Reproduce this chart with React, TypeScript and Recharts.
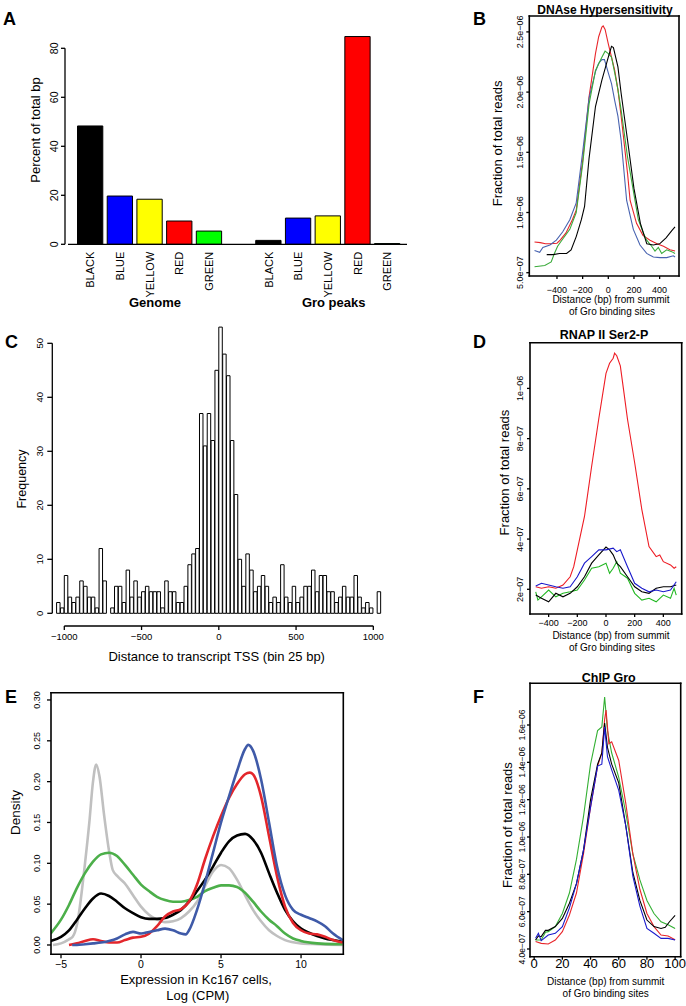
import React from 'react';
import {
  BarChart,
  LineChart,
  Bar,
  Line,
  XAxis,
  YAxis,
  ReferenceLine,
  Cell,
} from 'recharts';

// ---------------- page / fonts ----------------
const W = 686;
const H = 1006;
const SANS = '"Liberation Sans", Arial, Helvetica, sans-serif';
const NARROW = '"Liberation Sans Narrow", "Arial Narrow", "Liberation Sans", sans-serif';
const AX_W = 40;
const AX_H = 30;

// ---------------- Panel A data ----------------
const colourCategories = ['BLACK', 'BLUE', 'YELLOW', 'RED', 'GREEN'];
const colourFills = ['#000000', '#0000ff', '#ffff00', '#ff0000', '#00ff00'];
const genomePercent = [48.3, 19.7, 18.4, 9.5, 5.4];
const groPeaksPercent = [1.6, 10.7, 11.6, 84.8, 0.3];
const groupNames = ['Genome', 'Gro peaks'];
const aTicks = [0, 20, 40, 60, 80];

// ---------------- Panel C data (25 bp bins, -1050 .. 1050) ----------------
const tssFirstBinStart = -1050;
const tssBinWidth = 25;
const tssCounts = [
  2, 1, 7, 3, 2, 3, 6, 5, 3, 3, 1, 12, 6, 0, 1, 5, 5, 2, 8, 3, 6, 3, 4, 5, 4, 4, 4, 1, 6, 4, 4, 2,
  2, 5, 9, 11, 12, 37, 31, 37, 32, 45, 53, 48, 44, 32, 22, 10, 5, 11, 8, 4, 5, 7, 5, 2, 3, 2, 9, 3,
  2, 5, 2, 3, 5, 5, 8, 4, 7, 7, 4, 4, 2, 3, 5, 3, 3, 7, 3, 1, 2, 1, 0, 4,
];
const cXTicks = [-1000, -500, 0, 500, 1000];
const cYTicks = [0, 10, 20, 30, 40, 50];

// ---------------- Panel B data (units of 1e-7) ----------------
const bRedX = [-575, -530, -490, -450, -400, -375, -330, -280, -250, -200, -150, -100, -75, -50, -40, -25, 0, 25, 50, 75, 100, 150, 170, 220, 270, 325, 380, 430, 480, 520];
const bRedY = [7.55, 7.5, 7.4, 7.4, 7.45, 7.7, 8.3, 9.4, 10.2, 14.3, 19.6, 23.2, 24.6, 25.4, 25.5, 25.2, 24.0, 22.9, 21.8, 20.2, 18.0, 13.25, 11.0, 9.1, 8.1, 7.7, 7.4, 7.2, 6.9, 6.8];
const bBlueX = [-575, -535, -510, -455, -405, -355, -300, -250, -200, -150, -100, -75, -50, -30, 0, 25, 50, 75, 100, 143, 195, 247, 299, 351, 403, 455, 507, 520];
const bBlueY = [6.85, 6.7, 7.1, 7.3, 7.7, 8.4, 9.4, 10.8, 15.0, 19.5, 21.7, 22.4, 22.7, 22.7, 21.6, 20.7, 19.3, 18.0, 16.0, 11.0, 8.6, 7.3, 6.6, 6.3, 6.25, 6.25, 6.4, 6.3];
const bGreenX = [-575, -495, -445, -420, -395, -355, -300, -250, -200, -150, -100, -50, -25, 0, 25, 50, 75, 100, 150, 208, 234, 273, 299, 338, 364, 390, 416, 455, 494, 520];
const bGreenY = [5.5, 5.6, 5.9, 6.6, 7.2, 7.8, 8.6, 10.0, 14.0, 19.0, 21.8, 22.9, 23.4, 23.2, 22.9, 21.6, 20.2, 18.5, 14.6, 11.0, 9.4, 8.3, 7.7, 7.2, 6.8, 7.1, 6.6, 6.9, 6.75, 6.6];
const bBlackX = [-480, -430, -380, -325, -290, -250, -210, -185, -150, -100, -50, 0, 25, 40, 75, 100, 150, 200, 250, 300, 350, 400, 450, 495, 520];
const bBlackY = [6.5, 6.5, 6.6, 6.6, 6.9, 8.0, 9.4, 10.5, 14.5, 18.8, 21.0, 22.9, 23.8, 23.7, 22.1, 19.9, 16.0, 12.0, 9.1, 7.4, 7.3, 7.4, 7.9, 8.5, 8.8];

// ---------------- Panel D data (units of 1e-7) ----------------
const dRedX = [-490, -450, -400, -350, -300, -250, -225, -200, -150, -100, -50, -25, 0, 25, 50, 60, 75, 100, 125, 150, 200, 250, 300, 350, 375, 400, 450, 475, 490];
const dRedY = [2.1, 2.04, 2.1, 2.04, 2.17, 2.5, 2.9, 3.57, 4.9, 6.9, 8.8, 9.7, 10.6, 11.0, 11.2, 11.4, 11.3, 10.9, 9.84, 8.77, 7.04, 5.17, 3.7, 3.3, 3.37, 3.1, 2.97, 2.84, 2.9];
const dBlackX = [-490, -450, -400, -350, -300, -250, -200, -150, -100, -50, 0, 25, 50, 75, 100, 150, 200, 250, 300, 350, 400, 450, 490];
const dBlackY = [1.77, 1.64, 1.5, 1.84, 1.7, 1.84, 2.1, 2.5, 3.04, 3.37, 3.68, 3.57, 3.37, 3.04, 2.9, 2.5, 2.1, 1.9, 1.84, 2.04, 2.1, 2.1, 2.17];
const dBlueX = [-490, -450, -400, -350, -300, -250, -200, -150, -100, -50, 0, 50, 75, 100, 150, 200, 250, 300, 350, 400, 450, 490];
const dBlueY = [2.13, 2.24, 2.17, 2.1, 2.04, 2.1, 2.5, 3.04, 3.3, 3.57, 3.57, 3.64, 3.5, 3.57, 2.9, 2.24, 2.04, 1.9, 1.97, 1.9, 1.97, 2.3];
const dGreenX = [-490, -475, -450, -400, -350, -300, -250, -200, -150, -100, -50, 0, 25, 50, 75, 100, 150, 200, 250, 300, 350, 400, 450, 475, 490];
const dGreenY = [1.9, 1.57, 1.7, 1.97, 1.7, 1.84, 1.9, 1.97, 2.37, 2.84, 2.9, 3.04, 2.64, 2.84, 3.1, 2.64, 2.44, 1.84, 1.57, 1.64, 1.5, 1.77, 1.64, 2.04, 1.77];

// ---------------- Panel E data (density) ----------------
const eGreyX = [-5.5, -5, -4.5, -4.27, -4, -3.5, -3.23, -3, -2.8, -2.6, -2.3, -1.98, -1.77, -1.46, -1.04, -0.5, 0, 0.5, 1, 1.5, 2, 2.5, 3, 3.5, 4, 4.5, 5, 5.5, 6, 6.5, 7, 7.5, 8, 8.5, 9, 10, 11, 12.6];
const eGreyY = [0.0, 0.002, 0.007, 0.01, 0.025, 0.1, 0.15, 0.2, 0.221, 0.207, 0.158, 0.113, 0.092, 0.084, 0.076, 0.061, 0.047, 0.037, 0.031, 0.028, 0.029, 0.033, 0.041, 0.053, 0.072, 0.09, 0.098, 0.094, 0.08, 0.061, 0.043, 0.029, 0.018, 0.011, 0.006, 0.002, 0.001, 0.0];
const eGreenX = [-5.65, -5, -4.5, -4, -3.5, -3, -2.5, -2, -1.5, -1, -0.5, 0, 0.5, 1, 1.5, 2, 2.5, 3, 3.5, 4, 4.5, 5, 5.5, 6, 6.5, 7, 7.5, 8, 8.5, 9, 9.5, 10, 11, 12, 12.6];
const eGreenY = [0.014, 0.031, 0.049, 0.07, 0.088, 0.102, 0.111, 0.113, 0.109, 0.098, 0.086, 0.074, 0.066, 0.059, 0.055, 0.053, 0.053, 0.055, 0.059, 0.066, 0.07, 0.073, 0.073, 0.071, 0.064, 0.053, 0.041, 0.031, 0.023, 0.014, 0.008, 0.005, 0.002, 0.001, 0.001];
const eBlackX = [-5.65, -5, -4.5, -4, -3.5, -3, -2.5, -2, -1.5, -1, -0.5, 0, 0.5, 1, 1.5, 2, 2.5, 3, 3.5, 4, 4.5, 5, 5.5, 6, 6.5, 7, 7.5, 8, 8.5, 9, 9.5, 10, 10.5, 11, 11.5, 12, 12.6];
const eBlackY = [0.005, 0.01, 0.018, 0.031, 0.045, 0.057, 0.063, 0.06, 0.053, 0.045, 0.039, 0.034, 0.032, 0.032, 0.033, 0.037, 0.043, 0.053, 0.066, 0.08, 0.096, 0.113, 0.127, 0.134, 0.136, 0.129, 0.113, 0.088, 0.064, 0.043, 0.029, 0.02, 0.015, 0.011, 0.008, 0.006, 0.004];
const eRedX = [-4.5, -4, -3.5, -3, -2.5, -2, -1.5, -1, -0.5, 0, 0.5, 1, 1.5, 2, 2.5, 3, 3.5, 4, 4.5, 5, 5.5, 6, 6.5, 6.8, 7, 7.5, 8, 8.5, 9, 9.5, 10, 10.5, 11, 11.5, 12, 12.6];
const eRedY = [0.0, 0.002, 0.005, 0.007, 0.005, 0.003, 0.003, 0.006, 0.009, 0.01, 0.014, 0.023, 0.035, 0.041, 0.044, 0.053, 0.074, 0.105, 0.133, 0.158, 0.18, 0.197, 0.209, 0.211, 0.209, 0.182, 0.133, 0.084, 0.047, 0.027, 0.018, 0.014, 0.013, 0.01, 0.006, 0.003];
const eBlueX = [-4.3, -4, -3.5, -3, -2.5, -2, -1.5, -1, -0.5, 0, 0.5, 1, 1.5, 2, 2.5, 2.8, 3, 3.5, 4, 4.5, 5, 5.5, 6, 6.5, 6.7, 7, 7.5, 8, 8.5, 9, 9.5, 10, 10.5, 11, 11.5, 12, 12.6];
const eBlueY = [0.0, 0.0, 0.001, 0.002, 0.003, 0.005, 0.008, 0.013, 0.016, 0.014, 0.016, 0.018, 0.02, 0.018, 0.014, 0.013, 0.018, 0.043, 0.076, 0.113, 0.15, 0.182, 0.213, 0.24, 0.245, 0.238, 0.203, 0.15, 0.096, 0.061, 0.043, 0.037, 0.033, 0.029, 0.023, 0.014, 0.006];
const eXTicks = [-5, 0, 5, 10];
const eYTicks = [0, 0.05, 0.1, 0.15, 0.2, 0.25, 0.3];

// ---------------- Panel F data (units of 1e-7) ----------------
const fBlackX = [1, 3, 5, 8, 10, 15, 20, 25, 30, 35, 40, 45, 48, 50, 52, 55, 60, 65, 70, 75, 80, 85, 90, 93, 96, 100];
const fBlackY = [4.48, 4.7, 4.66, 5.0, 5.0, 5.2, 5.64, 6.45, 7.5, 9.3, 12.0, 13.9, 14.5, 16.1, 14.8, 13.9, 12.9, 10.6, 8.1, 6.6, 5.55, 5.2, 5.1, 5.16, 5.46, 5.8];
const fRedX = [1, 5, 10, 15, 20, 25, 30, 35, 40, 45, 48, 50, 51, 53, 55, 60, 65, 70, 75, 80, 85, 90, 95, 100];
const fRedY = [4.4, 4.3, 4.27, 4.48, 4.93, 5.82, 7.0, 9.1, 11.6, 13.8, 14.5, 16.3, 16.8, 15.0, 15.1, 14.1, 11.8, 9.1, 7.2, 5.9, 5.2, 4.75, 4.7, 4.5];
const fGreenX = [1, 5, 8, 10, 15, 20, 25, 30, 35, 40, 45, 48, 50, 52, 55, 60, 65, 70, 75, 80, 85, 90, 95, 100];
const fGreenY = [4.48, 4.48, 4.9, 4.93, 5.2, 5.9, 7.0, 8.8, 11.1, 13.9, 15.7, 15.9, 17.5, 15.7, 14.5, 13.2, 11.3, 9.1, 7.7, 6.6, 5.9, 5.46, 5.3, 5.1];
const fBlueX = [1, 3, 5, 10, 15, 20, 25, 30, 35, 40, 45, 48, 50, 52, 55, 60, 65, 70, 75, 80, 85, 90, 95, 100];
const fBlueY = [4.57, 4.84, 4.45, 4.75, 4.84, 5.2, 6.2, 7.5, 9.3, 11.6, 13.8, 13.9, 15.9, 14.3, 13.6, 12.5, 10.6, 7.9, 6.3, 5.1, 4.84, 4.57, 4.57, 4.48];

const UNIT = 1e-7;

// ---------------- helpers ----------------
type Box = { l: number; t: number; r: number; b: number };
const marginFor = (p: Box) => ({ left: p.l - AX_W, top: p.t, right: W - p.r, bottom: H - p.b - AX_H });
const pairs = (xs: number[], ys: number[], scale = 1) => xs.map((x, i) => ({ x, y: ys[i] * scale }));
const minus = (s: string) => s.replace('-', '\u2212');
const intFmt = (v: number) => minus(String(v));
const sci = (digits: number) => (v: number) => {
  const [m, e] = v.toExponential(digits).split('e');
  const ei = parseInt(e, 10);
  return `${m}e${ei < 0 ? '\u2212' : '+'}${String(Math.abs(ei)).padStart(2, '0')}`;
};

const rotYTick = (baseX: number, size: number, family: string, fmt: (v: number) => string) => (p: any) => (
  <text
    x={baseX}
    y={p.y}
    transform={`rotate(-90 ${baseX} ${p.y})`}
    textAnchor="middle"
    fontSize={size}
    fontFamily={family}
    fill="#000"
  >
    {fmt(p.payload.value)}
  </text>
);
const xTick = (baseY: number, size: number, family: string, fmt: (v: number) => string) => (p: any) => (
  <text x={p.x} y={baseY} textAnchor="middle" fontSize={size} fontFamily={family} fill="#000">
    {fmt(p.payload.value)}
  </text>
);

const layer: React.CSSProperties = { position: 'absolute', left: 0, top: 0 };
const tickLineStyle = { stroke: '#000', strokeWidth: 1.3 };

// ---------------- Panel A ----------------
const aRows = [
  ...colourCategories.map((name, i) => ({ slot: i + 1, name, value: genomePercent[i], fill: colourFills[i] })),
  ...colourCategories.map((name, i) => ({ slot: i + 7, name, value: groPeaksPercent[i], fill: colourFills[i] })),
];
const A_BOX: Box = { l: 65, t: 28.7, r: 407, b: 244.3 };
const A_X: [number, number] = [0.1465, 11.66];
const A_Y: [number, number] = [0, 88];

function PanelA() {
  const catTick = (p: any) => {
    const row = aRows.find((r) => r.slot === p.payload.value);
    const bx = p.x + 4;
    const by = 251.7;
    return (
      <text x={bx} y={by} transform={`rotate(-90 ${bx} ${by})`} textAnchor="end" fontSize={11} fontFamily={NARROW} fill="#000">
        {row ? row.name : ''}
      </text>
    );
  };
  return (
    <div style={layer}>
      <BarChart width={W} height={H} margin={marginFor(A_BOX)} data={aRows}>
        <XAxis
          type="number"
          dataKey="slot"
          domain={A_X}
          allowDataOverflow
          ticks={aRows.map((r) => r.slot)}
          interval={0}
          axisLine={false}
          tickLine={false}
          height={AX_H}
          tick={catTick}
        />
        <YAxis
          type="number"
          domain={A_Y}
          allowDataOverflow
          ticks={aTicks}
          interval={0}
          axisLine={false}
          tickLine={tickLineStyle}
          tickSize={4}
          width={AX_W}
          tick={rotYTick(57.7, 10.5, NARROW, intFmt)}
        />
        <ReferenceLine segment={[{ x: A_X[0], y: 0 }, { x: A_X[0], y: 80 }]} stroke="#000" strokeWidth={1.3} ifOverflow="visible" />
        <ReferenceLine segment={[{ x: 0.2475, y: 0 }, { x: A_X[1], y: 0 }]} stroke="#000" strokeWidth={1.3} ifOverflow="visible" />
        <Bar dataKey="value" barSize={25.3} stroke="#000" strokeWidth={1} isAnimationActive={false}>
          {aRows.map((r, i) => (
            <Cell key={i} fill={r.fill} />
          ))}
        </Bar>
      </BarChart>
    </div>
  );
}

// ---------------- Panel C ----------------
const cRows = tssCounts.map((count, i) => ({ x: tssFirstBinStart + tssBinWidth * (i + 0.5), count }));
const C_BOX: Box = { l: 52.3, t: 325, r: 390, b: 626 };
const C_X: [number, number] = [-1077.7, 1108];
const C_Y: [number, number] = [-2.35, 53.39];

function PanelC() {
  const pxPerUnit = (C_BOX.r - C_BOX.l) / (C_X[1] - C_X[0]);
  return (
    <div style={layer}>
      <BarChart width={W} height={H} margin={marginFor(C_BOX)} data={cRows}>
        <XAxis
          type="number"
          dataKey="x"
          domain={C_X}
          allowDataOverflow
          ticks={cXTicks}
          interval={0}
          axisLine={false}
          tickLine={tickLineStyle}
          tickSize={4}
          height={AX_H}
          tick={xTick(639.5, 9.5, SANS, intFmt)}
        />
        <YAxis
          type="number"
          domain={C_Y}
          allowDataOverflow
          ticks={cYTicks}
          interval={0}
          axisLine={false}
          tickLine={tickLineStyle}
          tickSize={5}
          width={AX_W}
          tick={rotYTick(43.5, 9.5, SANS, intFmt)}
        />
        <ReferenceLine segment={[{ x: C_X[0], y: 0 }, { x: C_X[0], y: 50 }]} stroke="#000" strokeWidth={1.3} ifOverflow="visible" />
        <ReferenceLine segment={[{ x: -1000, y: C_Y[0] }, { x: 1000, y: C_Y[0] }]} stroke="#000" strokeWidth={1.3} ifOverflow="visible" />
        <Bar
          dataKey="count"
          barSize={tssBinWidth * pxPerUnit}
          fill="#ffffff"
          stroke="#000"
          strokeWidth={1}
          isAnimationActive={false}
        />
      </BarChart>
    </div>
  );
}

// ---------------- generic boxed line panel ----------------
type Series = { data: { x: number; y: number }[]; color: string };
type LinePanelProps = {
  box: Box;
  xDomain: [number, number];
  yDomain: [number, number];
  xTicks: number[];
  yTicks: number[];
  xFmt: (v: number) => string;
  yFmt: (v: number) => string;
  xTickBase: number;
  yTickBase: number;
  xTickSize: number;
  yTickSize: number;
  xFont: string;
  yFont: string;
  tickLen: number;
  series: Series[];
  width: number;
  curve: 'linear' | 'monotone';
};

function LinePanel(p: LinePanelProps) {
  return (
    <div style={layer}>
      <LineChart width={W} height={H} margin={marginFor(p.box)}>
        <XAxis
          type="number"
          dataKey="x"
          domain={p.xDomain}
          allowDataOverflow
          ticks={p.xTicks}
          interval={0}
          axisLine={false}
          tickLine={tickLineStyle}
          tickSize={p.tickLen}
          height={AX_H}
          tick={xTick(p.xTickBase, p.xTickSize, p.xFont, p.xFmt)}
        />
        <YAxis
          type="number"
          domain={p.yDomain}
          allowDataOverflow
          ticks={p.yTicks}
          interval={0}
          axisLine={false}
          tickLine={tickLineStyle}
          tickSize={p.tickLen}
          width={AX_W}
          tick={rotYTick(p.yTickBase, p.yTickSize, p.yFont, p.yFmt)}
        />
        {p.series.map((s, i) => (
          <Line
            key={i}
            data={s.data}
            dataKey="y"
            type={p.curve}
            stroke={s.color}
            strokeWidth={p.width}
            dot={false}
            activeDot={false}
            isAnimationActive={false}
          />
        ))}
      </LineChart>
    </div>
  );
}

// ---------------- frames & texts ----------------
const B_BOX: Box = { l: 529.3, t: 16, r: 679, b: 276 };
const D_BOX: Box = { l: 530, t: 342.7, r: 681.7, b: 614 };
const E_BOX: Box = { l: 51, t: 692.7, r: 343.3, b: 954.3 };
const F_BOX: Box = { l: 530, t: 683.3, r: 680.7, b: 956.7 };

function Frame({ b }: { b: Box }) {
  const w = 1.6;
  return (
    <g>
      <line x1={b.l} y1={b.t} x2={b.r} y2={b.t} stroke="#000" strokeWidth={w} strokeLinecap="square" />
      <line x1={b.l} y1={b.b} x2={b.r} y2={b.b} stroke="#000" strokeWidth={w} strokeLinecap="square" />
      <line x1={b.l} y1={b.t} x2={b.l} y2={b.b} stroke="#000" strokeWidth={w} strokeLinecap="square" />
      <line x1={b.r} y1={b.t} x2={b.r} y2={b.b} stroke="#000" strokeWidth={w} strokeLinecap="square" />
    </g>
  );
}

function RotText({ x, y, size, children, weight = 'normal' }: any) {
  return (
    <text x={x} y={y} transform={`rotate(-90 ${x} ${y})`} textAnchor="middle" fontSize={size} fontFamily={SANS} fontWeight={weight} fill="#000">
      {children}
    </text>
  );
}
function T({ x, y, size, children, weight = 'normal', anchor = 'middle' }: any) {
  return (
    <text x={x} y={y} textAnchor={anchor} fontSize={size} fontFamily={SANS} fontWeight={weight} fill="#000">
      {children}
    </text>
  );
}

function Overlay() {
  return (
    <svg width={W} height={H} style={{ position: 'absolute', left: 0, top: 0, zIndex: 10, pointerEvents: 'none' }}>
      <Frame b={B_BOX} />
      <Frame b={D_BOX} />
      <Frame b={E_BOX} />
      <Frame b={F_BOX} />

      {/* panel letters */}
      <T x={3} y={25} size={18} weight="bold" anchor="start">A</T>
      <T x={473} y={25} size={18} weight="bold" anchor="start">B</T>
      <T x={5} y={348} size={18} weight="bold" anchor="start">C</T>
      <T x={473} y={348} size={18} weight="bold" anchor="start">D</T>
      <T x={5} y={703} size={18} weight="bold" anchor="start">E</T>
      <T x={473} y={703} size={18} weight="bold" anchor="start">F</T>

      {/* Panel A */}
      <RotText x={40} y={130} size={13}>Percent of total bp</RotText>
      <T x={155} y={306.5} size={13} weight="bold">{groupNames[0]}</T>
      <T x={333.7} y={306.5} size={13} weight="bold">{groupNames[1]}</T>

      {/* Panel B */}
      <T x={605} y={13.8} size={12} weight="bold">DNAse Hypersensitivity</T>
      <RotText x={502} y={143.3} size={13}>Fraction of total reads</RotText>
      <T x={611} y={302.5} size={10}>Distance (bp) from summit</T>
      <T x={612} y={314.5} size={10}>of Gro binding sites</T>

      {/* Panel C */}
      <RotText x={25.7} y={479} size={12.5}>Frequency</RotText>
      <T x={216.7} y={661} size={13}>Distance to transcript TSS (bin 25 bp)</T>

      {/* Panel D */}
      <T x={604} y={338.5} size={12.5} weight="bold">RNAP II Ser2-P</T>
      <RotText x={508.5} y={472.5} size={13}>Fraction of total reads</RotText>
      <T x={611} y={639} size={10}>Distance (bp) from summit</T>
      <T x={612} y={651} size={10}>of Gro binding sites</T>

      {/* Panel E */}
      <RotText x={19.7} y={812.5} size={13.5}>Density</RotText>
      <T x={196} y={983.5} size={13}>Expression in Kc167 cells,</T>
      <T x={197.8} y={999.5} size={13}>Log (CPM)</T>

      {/* Panel F */}
      <T x={608.7} y={681.5} size={12.5} weight="bold">ChIP Gro</T>
      <RotText x={512} y={825} size={13}>Fraction of total reads</RotText>
      <T x={605.7} y={985} size={10}>Distance (bp) from summit</T>
      <T x={605.7} y={997} size={10}>of Gro binding sites</T>
    </svg>
  );
}

// ---------------- App ----------------
export default function App() {
  const bSeries: Series[] = [
    { data: pairs(bRedX, bRedY, UNIT), color: '#e8262b' },
    { data: pairs(bBlueX, bBlueY, UNIT), color: '#4863b0' },
    { data: pairs(bGreenX, bGreenY, UNIT), color: '#3aaa3a' },
    { data: pairs(bBlackX, bBlackY, UNIT), color: '#000000' },
  ];
  const dSeries: Series[] = [
    { data: pairs(dRedX, dRedY, UNIT), color: '#ee1c24' },
    { data: pairs(dGreenX, dGreenY, UNIT), color: '#22b822' },
    { data: pairs(dBlackX, dBlackY, UNIT), color: '#000000' },
    { data: pairs(dBlueX, dBlueY, UNIT), color: '#1a1acc' },
  ];
  const eSeries: Series[] = [
    { data: pairs(eGreyX, eGreyY), color: '#c0c0c0' },
    { data: pairs(eGreenX, eGreenY), color: '#4caf4a' },
    { data: pairs(eBlackX, eBlackY), color: '#000000' },
    { data: pairs(eRedX, eRedY), color: '#e3262b' },
    { data: pairs(eBlueX, eBlueY), color: '#3f5aa8' },
  ];
  const fSeries: Series[] = [
    { data: pairs(fGreenX, fGreenY, UNIT), color: '#33b033' },
    { data: pairs(fRedX, fRedY, UNIT), color: '#e8262b' },
    { data: pairs(fBlackX, fBlackY, UNIT), color: '#000000' },
    { data: pairs(fBlueX, fBlueY, UNIT), color: '#1a1acc' },
  ];

  return (
    <div style={{ position: 'absolute', left: 0, top: 0, width: W, height: H, background: '#fff', overflow: 'hidden' }}>
      <PanelA />
      <PanelC />
      <LinePanel
        box={B_BOX}
        xDomain={[-615.7, 551]}
        yDomain={[4.726e-7, 2.632e-6]}
        xTicks={[-400, -200, 0, 200, 400]}
        yTicks={[5e-7, 1e-6, 1.5e-6, 2e-6, 2.5e-6]}
        xFmt={intFmt}
        yFmt={sci(1)}
        xTickBase={292.7}
        yTickBase={523.3}
        xTickSize={9}
        yTickSize={9}
        xFont={NARROW}
        yFont={NARROW}
        tickLen={3}
        series={bSeries}
        width={1.1}
        curve="linear"
      />
      <LinePanel
        box={D_BOX}
        xDomain={[-530, 528]}
        yDomain={[1.016e-7, 1.182e-6]}
        xTicks={[-400, -200, 0, 200, 400]}
        yTicks={[2e-7, 4e-7, 6e-7, 8e-7, 1e-6]}
        xFmt={intFmt}
        yFmt={sci(0)}
        xTickBase={626}
        yTickBase={523.3}
        xTickSize={9}
        yTickSize={9}
        xFont={NARROW}
        yFont={NARROW}
        tickLen={3}
        series={dSeries}
        width={1.1}
        curve="linear"
      />
      <LinePanel
        box={E_BOX}
        xDomain={[-5.625, 12.64]}
        yDomain={[-0.0114, 0.3089]}
        xTicks={eXTicks}
        yTicks={eYTicks}
        xFmt={intFmt}
        yFmt={(v) => v.toFixed(2)}
        xTickBase={968}
        yTickBase={40}
        xTickSize={10.5}
        yTickSize={9}
        xFont={NARROW}
        yFont={NARROW}
        tickLen={4}
        series={eSeries}
        width={2.6}
        curve="monotone"
      />
      <LinePanel
        box={F_BOX}
        xDomain={[-2.96, 103.96]}
        yDomain={[3.587e-7, 1.8234e-6]}
        xTicks={[0, 20, 40, 60, 80, 100]}
        yTicks={[4e-7, 6e-7, 8e-7, 1e-6, 1.2e-6, 1.4e-6, 1.6e-6]}
        xFmt={intFmt}
        yFmt={sci(1)}
        xTickBase={968.3}
        yTickBase={525}
        xTickSize={13}
        yTickSize={8.5}
        xFont={NARROW}
        yFont={NARROW}
        tickLen={3}
        series={fSeries}
        width={1.1}
        curve="linear"
      />
      <Overlay />
    </div>
  );
}
